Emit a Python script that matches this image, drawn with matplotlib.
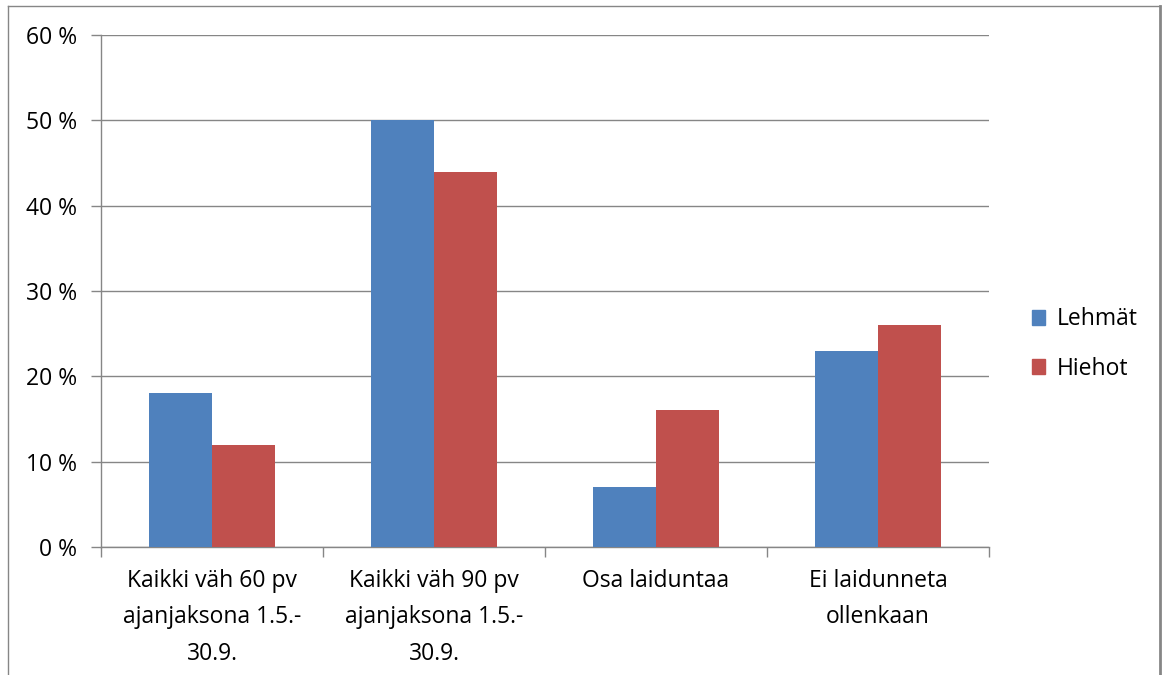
import matplotlib.pyplot as plt
import numpy as np
from matplotlib.patches import Patch
from matplotlib.lines import Line2D

categories = ['Kaikki väh 60 pv\najanjaksona 1.5.-\n30.9.',
              'Kaikki väh 90 pv\najanjaksona 1.5.-\n30.9.',
              'Osa laiduntaa',
              'Ei laidunneta\nollenkaan']
lehmat = [18, 50, 7, 23]
hiehot = [12, 44, 16, 26]
yticks = [0, 10, 20, 30, 40, 50, 60]

blue = '#4F81BD'
red = '#C0504D'
gray = '#868686'

plt.rcParams['font.family'] = ['Open Sans', 'DejaVu Sans']
fs = 16.5

fig = plt.figure(figsize=(11.64, 6.75), dpi=100)
ax = fig.add_axes([101/1164, 128/675, 888/1164, 512/675])

x = np.arange(len(categories))
w = 1 / 3.5
ax.bar(x - w/2, lehmat, w, color=blue, zorder=3)
ax.bar(x + w/2, hiehot, w, color=red, zorder=3)

ax.set_xlim(-0.5, len(categories) - 0.5)
ax.set_ylim(0, 60)
ax.set_yticks(yticks)
ax.set_yticklabels([f'{v} %' for v in yticks], fontsize=fs)
ax.yaxis.grid(True, color=gray, lw=1, zorder=0)

# category boundary ticks
ax.set_xticks(np.arange(-0.5, len(categories)), minor=False)
ax.set_xticklabels([''] * (len(categories) + 1))
ax.set_xticks(x, minor=True)
ax.set_xticklabels(categories, minor=True, fontsize=fs, linespacing=1.68)
ax.tick_params(axis='x', which='major', length=7, color=gray, width=1)
ax.tick_params(axis='x', which='minor', length=0, pad=16)
ax.tick_params(axis='y', length=7, color=gray, width=1, pad=10)

for s in ['top', 'right']:
    ax.spines[s].set_visible(False)
for s in ['left', 'bottom']:
    ax.spines[s].set_color(gray)
    ax.spines[s].set_linewidth(1)

handles = [Patch(color=blue, label='Lehmät'), Patch(color=red, label='Hiehot')]
fig.legend(handles=handles, loc='center left', bbox_to_anchor=(1011/1164, 1 - 344/675),
           frameon=False, fontsize=fs, handlelength=0.6, handleheight=0.6,
           handletextpad=0.5, labelspacing=1.1)

# outer chart frame
fig.add_artist(Line2D([8/1164, 8/1164], [-0.1, 1 - 6/675], transform=fig.transFigure, color=gray, lw=1))
fig.add_artist(Line2D([8/1164, 1160/1164], [1 - 6/675, 1 - 6/675], transform=fig.transFigure, color=gray, lw=1))
fig.add_artist(Line2D([1160/1164, 1160/1164], [-0.1, 1 - 6/675], transform=fig.transFigure, color=gray, lw=2))

fig.savefig('out.png', dpi=100)
